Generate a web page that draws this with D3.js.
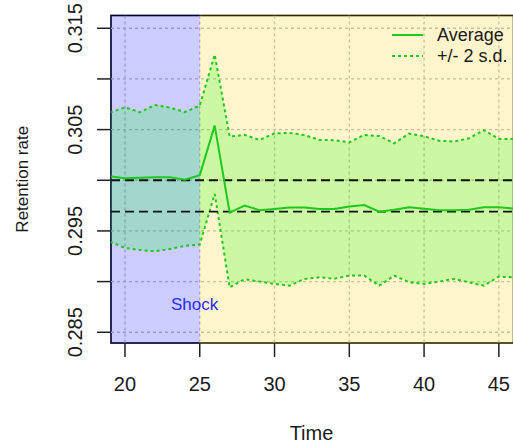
<!DOCTYPE html>
<html>
<head>
<meta charset="utf-8">
<script src="https://cdn.jsdelivr.net/npm/d3@7"></script>
<style>
  html, body { margin: 0; padding: 0; background: #ffffff; }
  svg { display: block; font-family: "Liberation Sans", Arial, sans-serif; }
</style>
</head>
<body>
<svg id="chart" width="513" height="447"></svg>
<script>
// ---- data ----
const time = [19,20,21,22,23,24,25,26,27,28,29,30,31,32,33,34,35,36,37,38,39,40,41,42,43,44,45,46];
const average = [0.30039,0.30021,0.30026,0.30029,0.30029,0.30006,0.30051,0.30539,0.29681,0.29750,
                 0.29705,0.29717,0.29730,0.29730,0.29717,0.29717,0.29740,0.29755,0.29690,0.29710,
                 0.29733,0.29720,0.29705,0.29705,0.29710,0.29733,0.29733,0.29720];
const upperSD = [0.30668,0.30720,0.30671,0.30742,0.30717,0.30673,0.30737,0.31240,0.30431,0.30448,
                 0.30398,0.30463,0.30467,0.30446,0.30398,0.30396,0.30375,0.30448,0.30436,0.30365,
                 0.30461,0.30434,0.30391,0.30382,0.30414,0.30495,0.30408,0.30408];
const lowerSD = [0.29394,0.29332,0.29312,0.29299,0.29322,0.29352,0.29365,0.29865,0.28943,0.29024,
                 0.29000,0.28977,0.28960,0.29026,0.29042,0.29029,0.29059,0.29059,0.28960,0.29059,
                 0.28993,0.28977,0.29000,0.29026,0.28993,0.28960,0.29049,0.29042];
const xTicks = [20,25,30,35,40,45];
const yTicks = [0.285,0.290,0.295,0.300,0.305,0.310,0.315];
const yTickLabels = [0.285,0.295,0.305,0.315];
const refLines = [0.300,0.2969];
const shockTime = 25;
const legendLabels = ["Average","+/- 2 s.d."];
const xDomain = [19.065, 45.98];
const yDomain = [0.28394, 0.31626];

// ---- layout ----
const svg = d3.select("#chart");
const L = 111, T = 15.5, B = 343, R = 513.5;
const x = d3.scaleLinear().domain(xDomain).range([L, R]);
const y = d3.scaleLinear().domain(yDomain).range([B, T]);
const green = "#1ec81e";

svg.append("defs").append("clipPath").attr("id","clip")
  .append("rect").attr("x",L).attr("y",T).attr("width",R-L).attr("height",B-T);

// box border
svg.append("rect").attr("x",L).attr("y",T).attr("width",R-L).attr("height",B-T)
  .attr("fill","none").attr("stroke","#000").attr("stroke-width",1.6);

// grid
const grid = svg.append("g").attr("clip-path","url(#clip)")
  .attr("stroke","#bdbdbd").attr("stroke-width",1.3).attr("stroke-dasharray","3,3");
grid.selectAll("line.v").data(xTicks).join("line")
  .attr("x1",d=>x(d)).attr("x2",d=>x(d)).attr("y1",T).attr("y2",B);
grid.selectAll("line.h").data(yTicks).join("line")
  .attr("x1",L).attr("x2",R).attr("y1",d=>y(d)).attr("y2",d=>y(d));

// regions (semi-transparent, also tint the border)
svg.append("rect").attr("x",L-1).attr("y",T-1)
  .attr("width",x(shockTime)-L+1).attr("height",B-T+2)
  .attr("fill","rgba(0,0,255,0.2)");
svg.append("rect").attr("x",x(shockTime)).attr("y",T-1)
  .attr("width",R-x(shockTime)+1).attr("height",B-T+2)
  .attr("fill","rgba(255,204,0,0.2)");

const data = time.map((t,i)=>({t, a:average[i], u:upperSD[i], l:lowerSD[i]}));
const plot = svg.append("g").attr("clip-path","url(#clip)");

// band
plot.append("path").datum(data)
  .attr("d", d3.area().x(d=>x(d.t)).y0(d=>y(d.l)).y1(d=>y(d.u)))
  .attr("fill","rgba(0,255,0,0.2)");

// +/- 2 sd lines
["u","l"].forEach(k=>{
  plot.append("path").datum(data)
    .attr("d", d3.line().x(d=>x(d.t)).y(d=>y(d[k])))
    .attr("fill","none").attr("stroke",green).attr("stroke-width",2)
    .attr("stroke-dasharray","3,3");
});

// reference dashed lines
plot.selectAll("line.ref").data(refLines).join("line")
  .attr("x1",L).attr("x2",R).attr("y1",d=>y(d)).attr("y2",d=>y(d))
  .attr("stroke","#111").attr("stroke-width",1.8).attr("stroke-dasharray","9,5");

// average line
plot.append("path").datum(data)
  .attr("d", d3.line().x(d=>x(d.t)).y(d=>y(d.a)))
  .attr("fill","none").attr("stroke",green).attr("stroke-width",2);

// Shock label
svg.append("text").attr("x",x(shockTime-0.35)).attr("y",y(0.2878)+6)
  .attr("text-anchor","middle").attr("font-size",17).attr("fill","#2a2aff").text("Shock");

// axes
const tickColor = "#222";
const xa = svg.append("g");
xa.selectAll("line").data(xTicks).join("line")
  .attr("x1",d=>x(d)).attr("x2",d=>x(d)).attr("y1",B).attr("y2",B+14)
  .attr("stroke",tickColor).attr("stroke-width",1.5);
xa.selectAll("text").data(xTicks).join("text")
  .attr("x",d=>x(d)).attr("y",391).attr("text-anchor","middle")
  .attr("font-size",20).attr("fill","#1a1a1a").text(d=>d);

const ya = svg.append("g");
ya.selectAll("line").data(yTicks).join("line")
  .attr("x1",L-14).attr("x2",L).attr("y1",d=>y(d)).attr("y2",d=>y(d))
  .attr("stroke",tickColor).attr("stroke-width",1.5);
ya.selectAll("text").data(yTickLabels).join("text")
  .attr("transform",d=>`translate(82,${y(d)}) rotate(-90)`)
  .attr("text-anchor","middle").attr("font-size",20).attr("fill","#1a1a1a")
  .text(d=>d3.format(".3f")(d));

// axis titles
svg.append("text").attr("x",311.5).attr("y",440).attr("text-anchor","middle")
  .attr("font-size",20).attr("fill","#1a1a1a").text("Time");
svg.append("text").attr("transform",`translate(28,${(T+B)/2}) rotate(-90)`)
  .attr("text-anchor","middle").attr("font-size",17).attr("fill","#1a1a1a").text("Retention rate");

// legend
const lg = svg.append("g");
const lgY = [35,56];
legendLabels.forEach((lab,i)=>{
  lg.append("line").attr("x1",392).attr("x2",423).attr("y1",lgY[i]).attr("y2",lgY[i])
    .attr("stroke",green).attr("stroke-width",2)
    .attr("stroke-dasharray", i===0 ? null : "3,3");
  lg.append("text").attr("x",437).attr("y",lgY[i]+6).attr("font-size",18)
    .attr("fill","#1a1a1a").text(lab);
});
</script>
</body>
</html>
